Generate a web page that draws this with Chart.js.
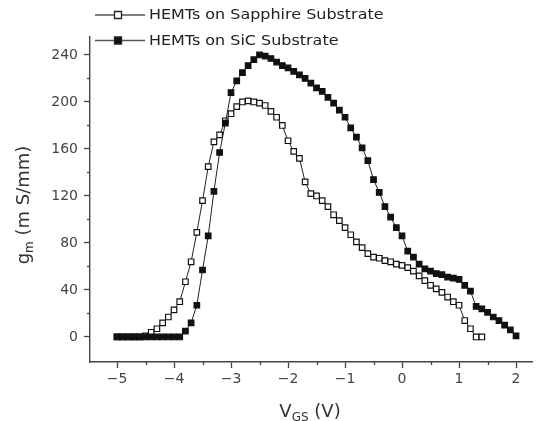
<!DOCTYPE html>
<html><head><meta charset="utf-8">
<script src="https://cdn.jsdelivr.net/npm/chart.js@4.4.0/dist/chart.umd.min.js"></script>
<style>html,body{margin:0;padding:0;background:#fff}#wrap{width:538px;height:421px;position:relative}</style>
</head><body><div id="wrap"><canvas id="c"></canvas></div>
<script>
const seriesNames = ['HEMTs on Sapphire Substrate', 'HEMTs on SiC Substrate'];

const vgsSapphire = [-5.0,-4.9,-4.8,-4.7,-4.6,-4.5,-4.4,-4.3,-4.2,-4.1,-4.0,-3.9,-3.8,-3.7,-3.6,-3.5,-3.4,-3.3,-3.2,-3.1,
  -3.0,-2.9,-2.8,-2.7,-2.6,-2.5,-2.4,-2.3,-2.2,-2.1,-2.0,-1.9,-1.8,-1.7,-1.6,-1.5,-1.4,-1.3,-1.2,-1.1,
  -1.0,-0.9,-0.8,-0.7,-0.6,-0.5,-0.4,-0.3,-0.2,-0.1,0.0,0.1,0.2,0.3,0.4,0.5,0.6,0.7,0.8,0.9,
  1.0,1.1,1.2,1.3,1.4];
const gmSapphire = [0,0,0,0,0,1,4,7,12,17,23,30,47,64,89,116,145,166,172,184,
  190,196,200,201,200,199,197,192,187,180,167,158,152,132,122,120,116,111,104,99,
  93,87,81,76,71,68,67,65,64,62,61,59,56,52,48,44,41,38,34,30,
  27,14,7,0,0];

const vgsSiC = [-5.0,-4.9,-4.8,-4.7,-4.6,-4.5,-4.4,-4.3,-4.2,-4.1,-4.0,-3.9,-3.8,-3.7,-3.6,-3.5,-3.4,-3.3,-3.2,-3.1,
  -3.0,-2.9,-2.8,-2.7,-2.6,-2.5,-2.4,-2.3,-2.2,-2.1,-2.0,-1.9,-1.8,-1.7,-1.6,-1.5,-1.4,-1.3,-1.2,-1.1,
  -1.0,-0.9,-0.8,-0.7,-0.6,-0.5,-0.4,-0.3,-0.2,-0.1,0.0,0.1,0.2,0.3,0.4,0.5,0.6,0.7,0.8,0.9,
  1.0,1.1,1.2,1.3,1.4,1.5,1.6,1.7,1.8,1.9,2.0];
const gmSiC = [0,0,0,0,0,0,0,0,0,0,0,0,5,12,27,57,86,124,157,182,
  208,218,225,231,236,240,239,237,234,231,229,226,223,220,216,212,209,204,199,193,
  187,178,170,161,150,134,123,111,102,93,86,73,68,62,58,56,54,53,51,50,
  49,44,39,26,24,21,17,14,10,6,1];

const xTickValues = [-5,-4.5,-4,-3.5,-3,-2.5,-2,-1.5,-1,-0.5,0,0.5,1,1.5,2];
const xTickLabels = [-5,-4,-3,-2,-1,0,1,2];
const yTickValues = [0,20,40,60,80,100,120,140,160,180,200,220,240];
const yTickLabels = [0,40,80,120,160,200,240];

const AXIS = '#444';
const fmt = v => (v < 0 ? '\u2212' + Math.abs(v) : String(v));

const minorTicks = {
  id: 'minorTicks',
  afterDraw(chart) {
    const c = chart.ctx, xs = chart.scales.x, ys = chart.scales.y;
    c.save();
    c.strokeStyle = AXIS; c.lineWidth = 1.3;
    xs.ticks.forEach(t => {
      if (!xTickLabels.includes(t.value)) {
        const px = Math.round(xs.getPixelForValue(t.value)) + 0.5;
        c.beginPath(); c.moveTo(px, xs.top); c.lineTo(px, xs.top + 3); c.stroke();
      }
    });
    ys.ticks.forEach(t => {
      if (!yTickLabels.includes(t.value)) {
        const py = Math.round(ys.getPixelForValue(t.value)) + 0.5;
        c.beginPath(); c.moveTo(ys.right, py); c.lineTo(ys.right - 3, py); c.stroke();
      }
    });
    c.restore();
  }
};

function drawRich(c, parts, x, y, align) {
  const big = '18px "DejaVu Sans"', small = '12px "DejaVu Sans"';
  let w = 0;
  parts.forEach(p => { c.font = p.sub ? small : big; w += c.measureText(p.t).width; });
  let cx = align === 'center' ? x - w / 2 : x;
  c.textAlign = 'left';
  parts.forEach(p => {
    c.font = p.sub ? small : big;
    c.fillText(p.t, cx, y + (p.sub ? 4 : 0));
    cx += c.measureText(p.t).width;
  });
}

const titlesAndLegend = {
  id: 'titlesAndLegend',
  afterDraw(chart) {
    const c = chart.ctx;
    c.save();
    c.fillStyle = '#333';
    c.textBaseline = 'alphabetic';
    drawRich(c, [{t:'V'},{t:'GS',sub:true},{t:' (V)'}], 310, 417, 'center');
    c.translate(29, 205);
    c.rotate(-Math.PI / 2);
    drawRich(c, [{t:'g'},{t:'m',sub:true},{t:' (m S/mm)'}], 0, 0, 'center');
    c.restore();

    c.save();
    chart.data.datasets.forEach((ds, i) => {
      const y = 15 + i * 25.5;
      c.strokeStyle = '#555'; c.lineWidth = 1.6;
      c.beginPath(); c.moveTo(95, y); c.lineTo(145, y); c.stroke();
      c.fillStyle = ds.pointBackgroundColor; c.strokeStyle = '#222'; c.lineWidth = 1.3;
      c.beginPath(); c.rect(114.5, y - 3.5, 7, 7); c.fill(); c.stroke();
      c.save();
      c.translate(149, y + 0.5);
      c.scale(1.14, 1);
      c.fillStyle = '#222'; c.font = '14px "DejaVu Sans"';
      c.textAlign = 'left'; c.textBaseline = 'middle';
      c.fillText(ds.label, 0, 0);
      c.restore();
    });
    c.restore();
  }
};

const mk = (label, xs, ys, fill, order) => ({
  label,
  order,
  data: xs.map((x, i) => ({ x, y: ys[i] })),
  showLine: true,
  borderColor: '#222',
  borderWidth: 1,
  pointStyle: 'rect',
  pointRadius: 3.9,
  pointBorderWidth: 1.2,
  pointBorderColor: '#111',
  pointBackgroundColor: fill,
  tension: 0
});

new Chart(document.getElementById('c'), {
  type: 'scatter',
  data: {
    datasets: [
      mk(seriesNames[0], vgsSapphire, gmSapphire, '#ffffff', 1),
      mk(seriesNames[1], vgsSiC, gmSiC, '#111111', 0)
    ]
  },
  options: {
    responsive: true,
    maintainAspectRatio: false,
    animation: false,
    events: [],
    layout: { padding: { top: 37, right: 6, left: 0, bottom: 0 } },
    plugins: { legend: { display: false }, tooltip: { enabled: false } },
    scales: {
      x: {
        type: 'linear',
        min: -5.474, max: 2.28,
        afterBuildTicks: s => { s.ticks = xTickValues.map(v => ({ value: v })); },
        afterFit: s => { s.height = 59; },
        ticks: {
          autoSkip: false, maxRotation: 0, padding: 3,
          color: AXIS, font: { family: 'DejaVu Sans', size: 14 },
          callback: v => xTickLabels.includes(v) ? fmt(v) : ''
        },
        grid: {
          drawOnChartArea: false, drawTicks: true, tickLength: 6, tickWidth: 1.3,
          tickColor: ctx => (ctx.tick && xTickLabels.includes(ctx.tick.value)) ? AXIS : 'rgba(0,0,0,0)'
        },
        border: { display: true, color: AXIS, width: 1.4 }
      },
      y: {
        type: 'linear',
        min: -21.3, max: 255.3,
        afterBuildTicks: s => { s.ticks = yTickValues.map(v => ({ value: v })); },
        afterFit: s => { s.width = 90; },
        ticks: {
          autoSkip: false, padding: 6,
          color: AXIS, font: { family: 'DejaVu Sans', size: 14 },
          callback: v => yTickLabels.includes(v) ? fmt(v) : ''
        },
        grid: {
          drawOnChartArea: false, drawTicks: true, tickLength: 6, tickWidth: 1.3,
          tickColor: ctx => (ctx.tick && yTickLabels.includes(ctx.tick.value)) ? AXIS : 'rgba(0,0,0,0)'
        },
        border: { display: true, color: AXIS, width: 1.4 }
      }
    }
  },
  plugins: [minorTicks, titlesAndLegend]
});
</script>
</body></html>
